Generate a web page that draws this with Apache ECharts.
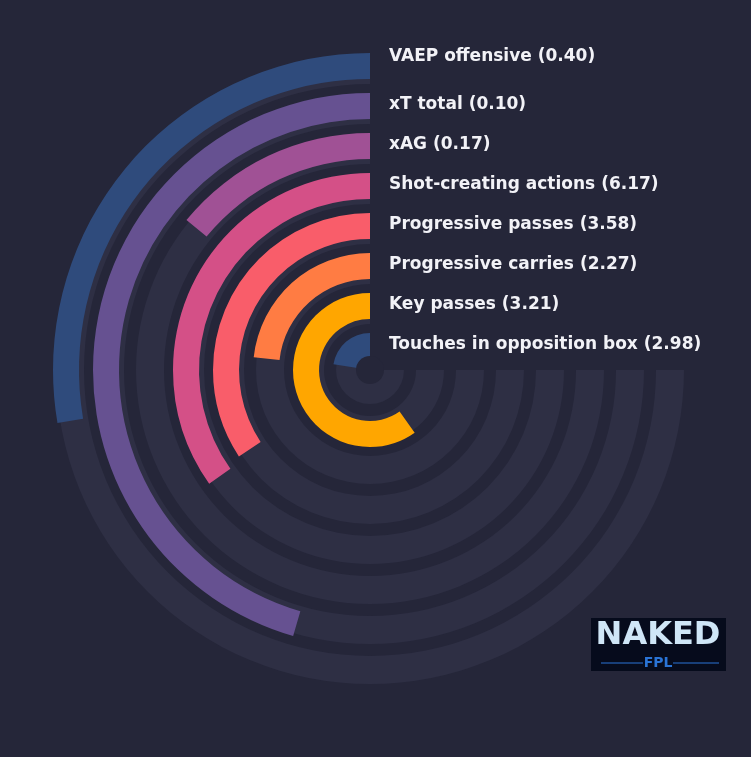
<!DOCTYPE html>
<html>
<head>
<meta charset="utf-8">
<script src="https://cdn.jsdelivr.net/npm/echarts@6/dist/echarts.min.js"></script>
<style>
  html, body { margin: 0; padding: 0; background: #252639; }
  #chart { width: 751px; height: 757px; }
</style>
</head>
<body>
<div id="chart"></div>
<script>
// Rings from innermost to outermost
const categories = [
  "Touches in opposition box",
  "Key passes",
  "Progressive carries",
  "Progressive passes",
  "Shot-creating actions",
  "xAG",
  "xT total",
  "VAEP offensive"
];
// raw per-90 values shown in the labels
const rawValues = ["2.98", "3.21", "2.27", "3.58", "6.17", "0.17", "0.10", "0.40"];
// percentile (0-100) (full track = 270 degrees)
const percentiles = [30, 79.8, 31, 45.7, 46.4, 18.8, 60.7, 36.9];
const trackMax = [100, 100, 100, 100, 100, 100, 100, 100];
const barColors = ["#2f4b7c", "#ffa600", "#ff7c43", "#f95d6a", "#d45087", "#a05195", "#665191", "#2f4b7c"];

const BG = "#252639";
const TRACK = "#2e2f44";
const CX = 370, CY = 370;
const angleMax = 100 * 360 / 270;

const chart = echarts.init(document.getElementById("chart"), null, { renderer: "canvas" });

const angleAxisCfg = (i) => ({
  polarIndex: i, type: "value", min: 0, max: angleMax, startAngle: 90, clockwise: false,
  axisLine: { show: false }, axisTick: { show: false }, axisLabel: { show: false }, splitLine: { show: false }
});
const radiusAxisCfg = (i) => ({
  polarIndex: i, type: "category", data: categories,
  axisLine: { show: false }, axisTick: { show: false }, axisLabel: { show: false }, splitLine: { show: false }
});

// label texts
const labelEls = categories.map((c, k) => {
  let y = CY - (24 + 40 * k) - 1;
  if (k === categories.length - 1) y -= 8;
  return {
    type: "text", x: 389, y: y, silent: true,
    style: {
      text: c + " (" + rawValues[k] + ")",
      fill: "#f2f2f7", fontSize: 17, fontWeight: "bold",
      fontFamily: "DejaVu Sans", verticalAlign: "middle", align: "left"
    }
  };
});

// logo
const logo = {
  type: "group", x: 591, y: 618, silent: true,
  children: [
    { type: "rect", shape: { x: 0, y: 0, width: 135, height: 53 }, style: { fill: "#060b1c" } },
    { type: "text", x: 67, y: 18, style: { text: "NAKED", fill: "#cfe6f7", fontSize: 32, fontWeight: "bold", fontFamily: "DejaVu Sans", align: "center", verticalAlign: "middle" } },
    { type: "text", x: 67, y: 45, style: { text: "FPL", fill: "#2a74d6", fontSize: 14, fontWeight: "bold", fontFamily: "DejaVu Sans", align: "center", verticalAlign: "middle" } },
    { type: "line", shape: { x1: 10, y1: 45, x2: 52, y2: 45 }, style: { stroke: "#2a74d6", lineWidth: 1 } },
    { type: "line", shape: { x1: 82, y1: 45, x2: 128, y2: 45 }, style: { stroke: "#2a74d6", lineWidth: 1 } }
  ]
};

const option = {
  backgroundColor: BG,
  animation: false,
  polar: [
    { center: [CX, CY], radius: [0, 320] },
    { center: [CX, CY], radius: [4, 324] }
  ],
  angleAxis: [angleAxisCfg(0), angleAxisCfg(1)],
  radiusAxis: [radiusAxisCfg(0), radiusAxisCfg(1)],
  series: [
    {
      type: "bar", coordinateSystem: "polar", polarIndex: 0, silent: true,
      data: trackMax, barWidth: 28, itemStyle: { color: TRACK }
    },
    {
      type: "bar", coordinateSystem: "polar", polarIndex: 1, silent: true,
      data: percentiles.map((v, i) => ({ value: v, itemStyle: { color: barColors[i] } })),
      barWidth: 26
    },
    {
      type: "pie", center: [CX, CY], radius: [0, 14], silent: true,
      label: { show: false }, labelLine: { show: false },
      data: [{ value: 1, itemStyle: { color: BG } }]
    }
  ],
  graphic: labelEls.concat([logo])
};
chart.setOption(option);
</script>
</body>
</html>
